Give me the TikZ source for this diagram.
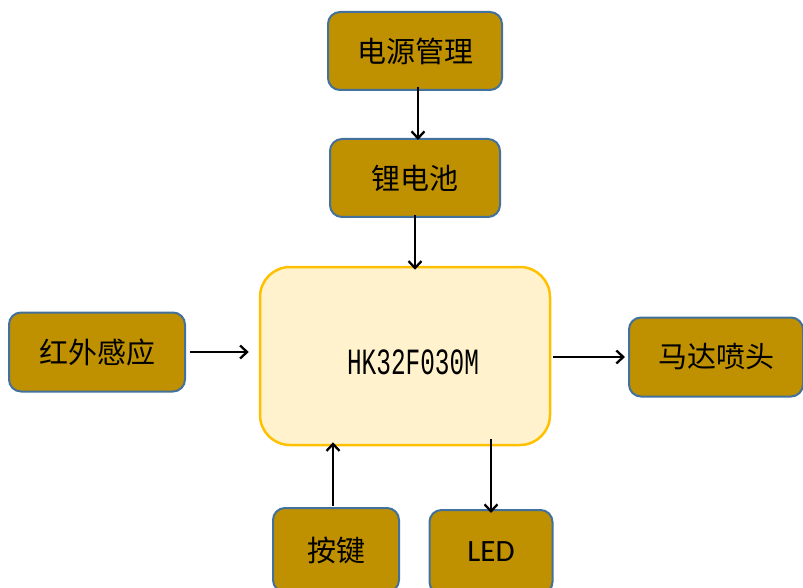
\documentclass[tikz,border=0pt]{standalone}
\usepackage{fontspec}
\setmainfont{Liberation Serif}
\newfontfamily\cjk{Noto Sans CJK SC}
\newfontfamily\monof{Liberation Mono}
\newfontfamily\carl{Carlito}
\usetikzlibrary{arrows.meta}
\definecolor{gold}{HTML}{BF9000}
\definecolor{bluebd}{HTML}{41719C}
\definecolor{corebd}{HTML}{FFC000}
\definecolor{corefill}{HTML}{FFF2CC}
\begin{document}
\begin{tikzpicture}[x=1pt,y=-1pt,
  blk/.style={draw=bluebd,line width=2pt,fill=gold,rounded corners=12pt,inner sep=0pt,font=\cjk\fontsize{29}{32}\selectfont},
  core/.style={draw=corebd,line width=2.5pt,fill=corefill,rounded corners=30pt,inner sep=0pt},
  arr/.style={draw=black,line width=2.3pt,-{Straight Barb[length=7pt,width=13pt,line width=2.3pt]}}]
\useasboundingbox (0,0) rectangle (803,588);
\node[blk,minimum width=174pt,minimum height=78pt] (pwr) at (415,51) {电源管理};
\node[blk,minimum width=170pt,minimum height=78pt] (bat) at (415,178) {锂电池};
\node[core,minimum width=290pt,minimum height=178pt] (mcu) at (405,356) {};
\node[inner sep=0pt] (mcut) at (413,362) {\monof\fontsize{37}{40}\selectfont\scalebox{0.66}[1]{HK32F030M}};
\node[blk,minimum width=176pt,minimum height=79pt] (ir) at (97,352) {红外感应};
\node[blk,minimum width=174pt,minimum height=79pt] (motor) at (716,357) {马达喷头};
\node[blk,minimum width=126pt,minimum height=84pt] (key) at (336,550) {按键};
\node[blk,minimum width=123pt,minimum height=84pt,font=\carl\fontsize{31}{33}\selectfont] (led) at (491,552) {LED};
\coordinate (a1) at ([xshift=3pt,yshift=4pt]pwr.south);
\draw[arr] (a1) -- ([yshift=-2pt]a1 |- bat.north);
\coordinate (a2) at ([yshift=3pt]bat.south);
\draw[arr] (a2) -- ([yshift=-4pt]a2 |- mcu.north);
\coordinate (a3) at ([xshift=4pt]ir.east);
\draw[arr] (a3) -- ([xshift=-10pt]a3 -| mcu.west);
\coordinate (a4) at ([xshift=2pt,yshift=-1pt]mcu.east);
\draw[arr] (a4) -- ([xshift=-3pt]a4 -| motor.west);
\coordinate (a5) at ([xshift=-3pt,yshift=1pt]key.north);
\draw[arr] (a5) -- ([yshift=4pt]a5 |- mcu.south);
\coordinate (a6) at ([yshift=7pt]mcu.south -| led.north);
\draw[arr] (a6) -- ([yshift=-4pt]led.north);
\end{tikzpicture}
\end{document}
